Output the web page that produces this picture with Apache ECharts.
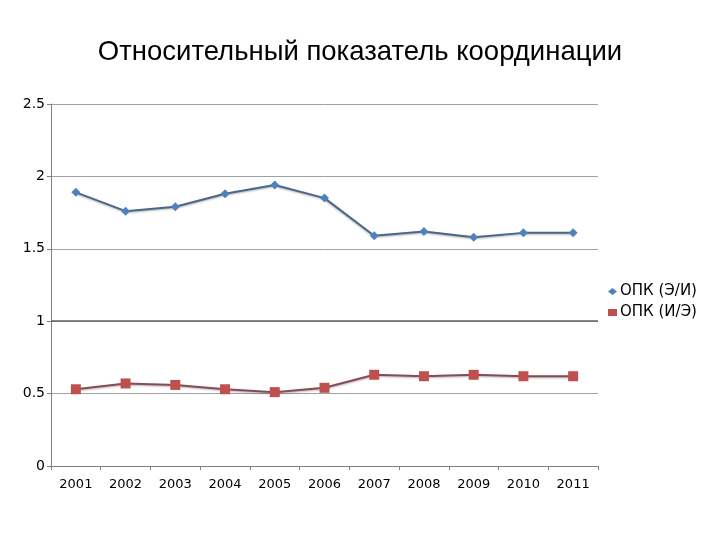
<!DOCTYPE html>
<html><head><meta charset="utf-8">
<script src="https://cdn.jsdelivr.net/npm/echarts@6/dist/echarts.min.js"></script>
<style>html,body{margin:0;padding:0;background:#fff}#c{width:720px;height:540px}</style>
</head><body><div id="c"></div>
<script>
const categories = ['2001','2002','2003','2004','2005','2006','2007','2008','2009','2010','2011'];
const seriesEI = [1.89,1.76,1.79,1.88,1.94,1.85,1.59,1.62,1.58,1.61,1.61];
const seriesIE = [0.53,0.57,0.56,0.53,0.51,0.54,0.63,0.62,0.63,0.62,0.62];
const names = ['ОПК (Э/И)','ОПК (И/Э)'];
const chart = echarts.init(document.getElementById('c'));
chart.setOption({
  animation:false,
  title:{text:'Относительный показатель координации',left:'center',top:33,
    textStyle:{fontFamily:'Liberation Sans, Arial',fontWeight:'normal',fontSize:27.5,color:'#000'}},
  legend:{orient:'vertical',left:603,top:279,itemGap:6,itemWidth:9,itemHeight:7,
    textStyle:{fontFamily:'DejaVu Sans',fontSize:15,color:'#000',padding:[0,0,0,-2]},
    data:[{name:names[0],icon:'diamond'},{name:names[1],icon:'rect'}]},
  grid:{left:51,top:104,width:547,height:362},
  xAxis:{type:'category',data:categories,boundaryGap:true,
    axisLine:{lineStyle:{color:'#808080'}},
    axisTick:{show:true,length:4,lineStyle:{color:'#808080'}},
    axisLabel:{fontFamily:'DejaVu Sans',fontSize:13,color:'#000',margin:12},
    splitLine:{show:false}},
  yAxis:{type:'value',min:0,max:2.5,interval:0.5,
    axisLine:{show:true,lineStyle:{color:'#808080'}},
    axisTick:{show:true,length:4,lineStyle:{color:'#808080'}},
    axisLabel:{fontFamily:'DejaVu Sans',fontSize:14,color:'#000',margin:6},
    splitLine:{lineStyle:{color:'#a0a0a0',width:1}}},
  series:[
    {name:names[0],type:'line',data:seriesEI,symbol:'diamond',symbolSize:9,
      lineStyle:{color:'#4a6688',width:2,shadowColor:'rgba(0,0,0,0.3)',shadowBlur:2,shadowOffsetY:1},
      itemStyle:{color:'#4F81BD'},
      markLine:{silent:true,symbol:'none',label:{show:false},
        lineStyle:{color:'#606060',type:'solid',width:1.5},data:[{yAxis:1}]}},
    {name:names[1],type:'line',data:seriesIE,symbol:'rect',symbolSize:10,
      lineStyle:{color:'#8a4a55',width:2,shadowColor:'rgba(0,0,0,0.3)',shadowBlur:2,shadowOffsetY:1},
      itemStyle:{color:'#C0504D'}}
  ]
});
</script></body></html>
